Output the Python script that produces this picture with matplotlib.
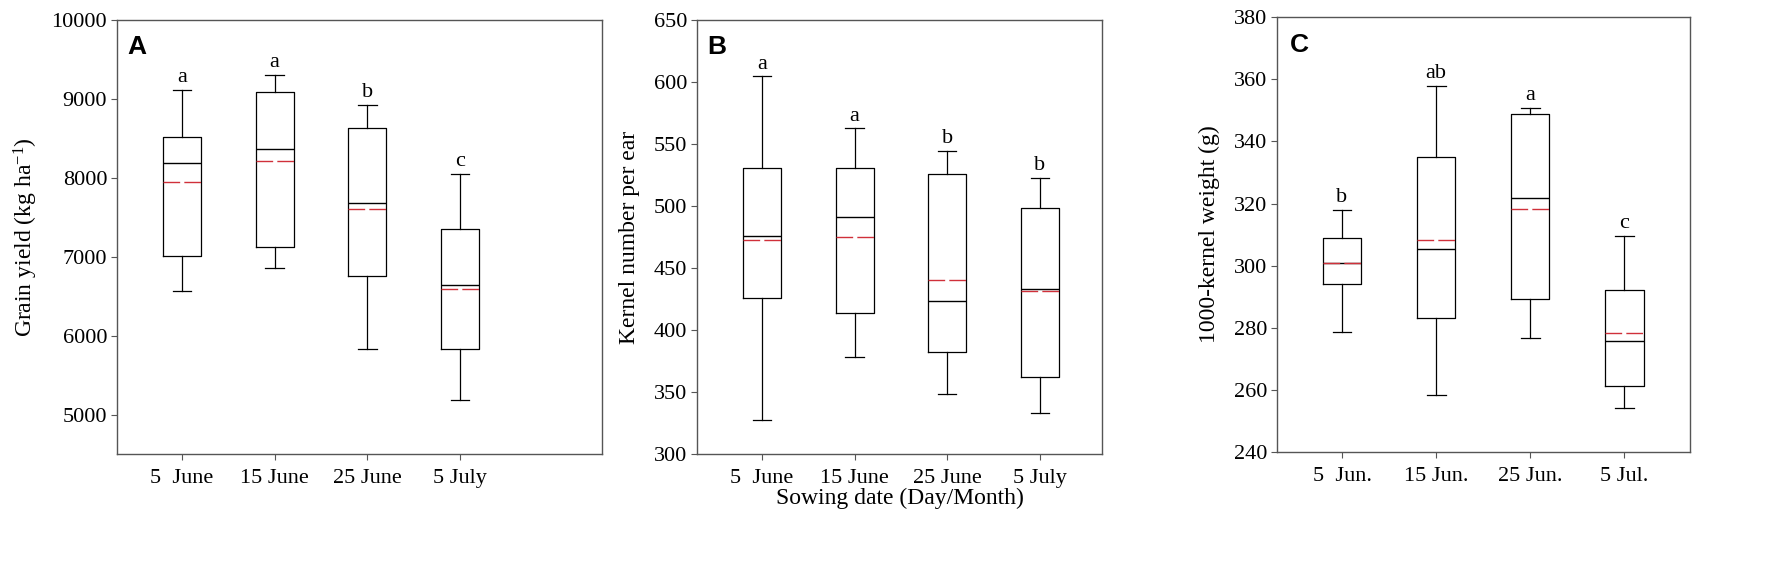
import matplotlib
matplotlib.use('Agg')
import matplotlib.pyplot as plt
from matplotlib.transforms import ScaledTranslation

plt.rcParams['font.family'] = 'Liberation Serif'
plt.rcParams['mathtext.fontset'] = 'custom'
plt.rcParams['mathtext.rm'] = 'Liberation Serif'
plt.rcParams['mathtext.it'] = 'Liberation Serif:italic'

# box statistics: whislo, q1, median, q3, whishi, mean
yield_low = [6570, 6857, 5835, 5190]
yield_q1 = [7004, 7127, 6759, 5831]
yield_med = [8194, 8367, 7684, 6637]
yield_q3 = [8515, 9089, 8633, 7354]
yield_high = [9114, 9304, 8920, 8051]
yield_mean = [7949, 8211, 7599, 6591]
yield_letters = ['a', 'a', 'b', 'c']

kernel_low = [327.4, 378.2, 348.7, 333.1]
kernel_q1 = [425.5, 414.0, 382.5, 362.1]
kernel_med = [476.1, 491.1, 423.4, 433.1]
kernel_q3 = [530.9, 530.9, 525.8, 498.4]
kernel_high = [604.6, 562.6, 544.4, 522.6]
kernel_mean = [472.3, 474.7, 440.3, 431.2]
kernel_letters = ['a', 'a', 'b', 'b']

tkw_low = [278.5, 258.3, 276.8, 254.1]
tkw_q1 = [294.0, 283.1, 289.1, 261.2]
tkw_med = [300.8, 305.4, 321.7, 275.6]
tkw_q3 = [308.9, 334.9, 348.7, 292.3]
tkw_high = [318.0, 357.8, 350.7, 309.5]
tkw_mean = [301.0, 308.4, 318.1, 278.4]
tkw_letters = ['b', 'ab', 'a', 'c']

june_labels = ['5  June', '15 June', '25 June', '5 July']
short_labels = ['5  Jun.', '15 Jun.', '25 Jun.', '5 Jul.']

fig = plt.figure(figsize=(17.72, 5.64), dpi=100)


def make_stats(low, q1, med, q3, high, mean):
    return [dict(whislo=a, q1=b, med=c, q3=d, whishi=e, mean=f, fliers=[])
            for a, b, c, d, e, f in zip(low, q1, med, q3, high, mean)]


def draw_panel(rect, stats, letters, ylim, yticks, xlim, labels, ylabel, lpad, tag, tag_pos):
    ax = fig.add_axes(rect)
    ax.bxp(stats, positions=[1, 2, 3, 4], widths=0.41, showmeans=True, meanline=True,
           boxprops=dict(color='black', lw=0.9),
           whiskerprops=dict(color='black', lw=0.9),
           capprops=dict(color='black', lw=0.9),
           medianprops=dict(color='black', lw=1.0),
           meanprops=dict(color='#d0303a', lw=1.0, linestyle=(0, (12, 3))),
           capwidths=0.2, manage_ticks=False)
    for i, s in enumerate(stats):
        ax.annotate(letters[i], (i + 1, s['whishi']), xytext=(0, 2),
                    textcoords='offset points', ha='center', va='bottom', fontsize=16)
    ax.set_ylim(*ylim)
    ax.set_yticks(yticks)
    ax.set_xlim(*xlim)
    ax.set_xticks([1, 2, 3, 4])
    ax.set_xticklabels(labels)
    off = ScaledTranslation(14 / 100, 0, fig.dpi_scale_trans)
    for lab in ax.get_xticklabels():
        lab.set_transform(lab.get_transform() + off)
    ax.tick_params(direction='out', length=4, width=0.8, color='#555555',
                   labelsize=16, pad=7)
    ax.tick_params(axis='y', pad=3)
    for sp in ax.spines.values():
        sp.set_color('#555555')
        sp.set_linewidth(1.0)
    ax.set_ylabel(ylabel, fontsize=17, labelpad=lpad)
    ax.text(tag_pos[0], tag_pos[1], tag, transform=ax.transAxes, family='Liberation Sans',
            fontweight='bold', fontsize=19, va='top', ha='left')
    return ax


axA = draw_panel([0.066, 0.195, 0.2737, 0.7695],
                 make_stats(yield_low, yield_q1, yield_med, yield_q3, yield_high, yield_mean),
                 yield_letters, (4500, 10000), range(5000, 10001, 1000), (0.3, 5.53),
                 june_labels, 'Grain yield (kg ha$^{-1}$)', 8, 'A', (0.021, 0.965))
axB = draw_panel([0.3933, 0.195, 0.2286, 0.7695],
                 make_stats(kernel_low, kernel_q1, kernel_med, kernel_q3, kernel_high, kernel_mean),
                 kernel_letters, (300, 650), range(300, 651, 50), (0.3, 4.67),
                 june_labels, 'Kernel number per ear', 10, 'B', (0.025, 0.965))
axB.set_xlabel('Sowing date (Day/Month)', fontsize=17, labelpad=0)
axC = draw_panel([0.7207, 0.1986, 0.2331, 0.771],
                 make_stats(tkw_low, tkw_q1, tkw_med, tkw_q3, tkw_high, tkw_mean),
                 tkw_letters, (240, 380), range(240, 381, 20), (0.31, 4.70),
                 short_labels, '1000-kernel weight (g)', 10, 'C', (0.031, 0.963))

fig.savefig('out.png', dpi=100)
plt.close(fig)
